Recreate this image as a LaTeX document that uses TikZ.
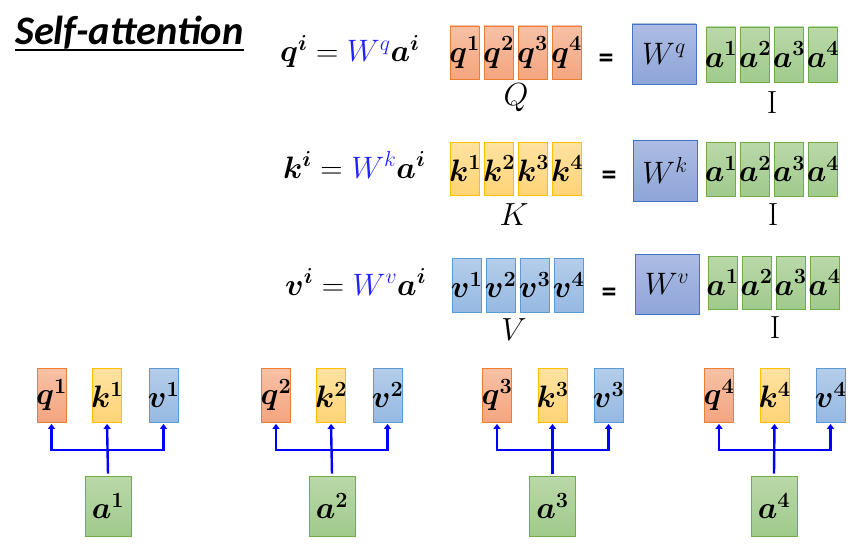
\RequirePackage{fix-cm}
\documentclass[tikz,border=0pt]{standalone}
\usepackage{fontspec}
\usepackage{bm}
\usepackage{tikz}
\usetikzlibrary{arrows.meta,positioning}

\newfontfamily\titlefont{Carlito}
\newcommand{\cellvec}[1]{\makebox[0pt]{$\bm{#1}$}}

\definecolor{qline}{HTML}{ED7D31}
\definecolor{qtop}{HTML}{F7C1A6}
\definecolor{qbot}{HTML}{F4A57F}
\definecolor{kline}{HTML}{FFC000}
\definecolor{ktop}{HTML}{FFE2A2}
\definecolor{kbot}{HTML}{FFD476}
\definecolor{vline}{HTML}{5B9BD5}
\definecolor{vtop}{HTML}{B5CDEA}
\definecolor{vbot}{HTML}{96B9E2}
\definecolor{aline}{HTML}{70AD47}
\definecolor{atop}{HTML}{BAD8A9}
\definecolor{abot}{HTML}{A0CA8C}
\definecolor{wline}{HTML}{4472C4}
\definecolor{wtop}{HTML}{ADBCE4}
\definecolor{wbot}{HTML}{8EA5D8}
\definecolor{linkblue}{HTML}{0000FF}
\definecolor{eqblue}{HTML}{2222FF}

\begin{document}
\begin{tikzpicture}[
  x=1pt, y=-1pt,
  cell/.style={
    draw,
    line width=0.8pt,
    inner sep=0pt,
    minimum width=29pt,
    minimum height=54pt,
    font=\fontsize{31}{34}\selectfont
  },
  qcell/.style={cell, draw=qline, top color=qtop, bottom color=qbot},
  kcell/.style={cell, draw=kline, top color=ktop, bottom color=kbot},
  vcell/.style={cell, draw=vline, top color=vtop, bottom color=vbot},
  acell/.style={cell, draw=aline, top color=atop, bottom color=abot},
  weight/.style={
    cell,
    draw=wline,
    top color=wtop,
    bottom color=wbot,
    minimum width=64pt,
    minimum height=60pt
  },
  input/.style={acell, minimum width=46pt, minimum height=60pt},
  link/.style={
    -{Triangle[length=5pt,width=7pt]},
    line width=2.4pt,
    draw=linkblue
  },
  eqn/.style={
    anchor=base west,
    inner sep=0pt,
    font=\fontsize{31}{34}\selectfont
  },
  eqsign/.style={
    inner sep=0pt,
    font=\titlefont\bfseries\fontsize{30}{32}\selectfont
  },
  matname/.style={
    inner sep=0pt,
    font=\fontsize{32}{34}\selectfont
  }
]
\useasboundingbox (0,0) rectangle (860,551);

% Tiêu đề
\node[anchor=base west, inner sep=0pt,
  font=\titlefont\bfseries\itshape\fontsize{40.5}{42}\selectfont]
  (title) at (15,45) {Self-attention};
\draw[line width=1.4pt] (title.south west) -- (title.south east);

% Các phương trình
\node[eqn] (eqq) at (280,62)
  {$\bm{q^i} = \textcolor{eqblue}{W^q}\bm{a^i}$};
\node[eqn] (eqk) at (283,178)
  {$\bm{k^i} = \textcolor{eqblue}{W^k}\bm{a^i}$};
\node[eqn] (eqv) at (285,295)
  {$\bm{v^i} = \textcolor{eqblue}{W^v}\bm{a^i}$};

% Hàng Q
\foreach \i in {1,...,4}
  \node[qcell, minimum height=53pt] (Q\i) at ({430.5+34*\i},52.5) {\cellvec{q^{\i}}};
\node[eqsign] (eqsq) at (606,61) {=};
\node[weight] (wq) at (664,54) {$W^q$};
\foreach \i in {1,...,4}
  \node[acell, minimum height=55pt] (aq\i) at ({687+34*\i},54.5) {\cellvec{a^{\i}}};
\node[matname] (nq) at (516,98) {$Q$};
\node[matname] (iq) at (772,103) {I};

% Hàng K
\foreach \i in {1,...,4}
  \node[kcell, minimum height=53pt] (K\i) at ({431+34*\i},168.5) {\cellvec{k^{\i}}};
\node[eqsign] (eqsk) at (609,178) {=};
\node[weight, minimum height=61pt] (wk) at (665,170.5) {$W^k$};
\foreach \i in {1,...,4}
  \node[acell] (ak\i) at ({687+34*\i},169) {\cellvec{a^{\i}}};
\node[matname] (nk) at (514,215) {$K$};
\node[matname] (ik) at (773,215) {I};

% Hàng V
\foreach \i in {1,...,4}
  \node[vcell] (V\i) at ({432.5+34*\i},285) {\cellvec{v^{\i}}};
\node[eqsign] (eqsv) at (609,295) {=};
\node[weight] (wv) at (667,284) {$W^v$};
\foreach \i in {1,...,4}
  \node[acell, minimum height=53pt] (av\i) at ({688.5+34*\i},282.5) {\cellvec{a^{\i}}};
\node[matname] (nv) at (514,330) {$V$};
\node[matname] (iv) at (775,328) {I};

% Từng đầu vào a^i -> q^i, k^i, v^i
\foreach \i/\xq/\xk/\xv/\xa in {1/51.5/107/163.5/108,
                                2/276/331/387.5/332,
                                3/497/552.5/608.5/552.5,
                                4/719/774.5/830.5/774}{
  \node[qcell] (q\i) at (\xq,395) {\cellvec{q^{\i}}};
  \node[kcell] (k\i) at (\xk,395) {\cellvec{k^{\i}}};
  \node[vcell] (v\i) at (\xv,395) {\cellvec{v^{\i}}};
  \node[input] (a\i) at (\xa,506) {\cellvec{a^{\i}}};
  \coordinate (j\i) at (k\i.south |- 0,450);
  \draw[link, shorten >=1.5pt] ([yshift=2pt]a\i.north) -- (k\i.south);
  \draw[link, shorten >=1.5pt] (j\i) -| (q\i.south);
  \draw[link, shorten >=1.5pt] (j\i) -| (v\i.south);
}

\end{tikzpicture}
\end{document}
